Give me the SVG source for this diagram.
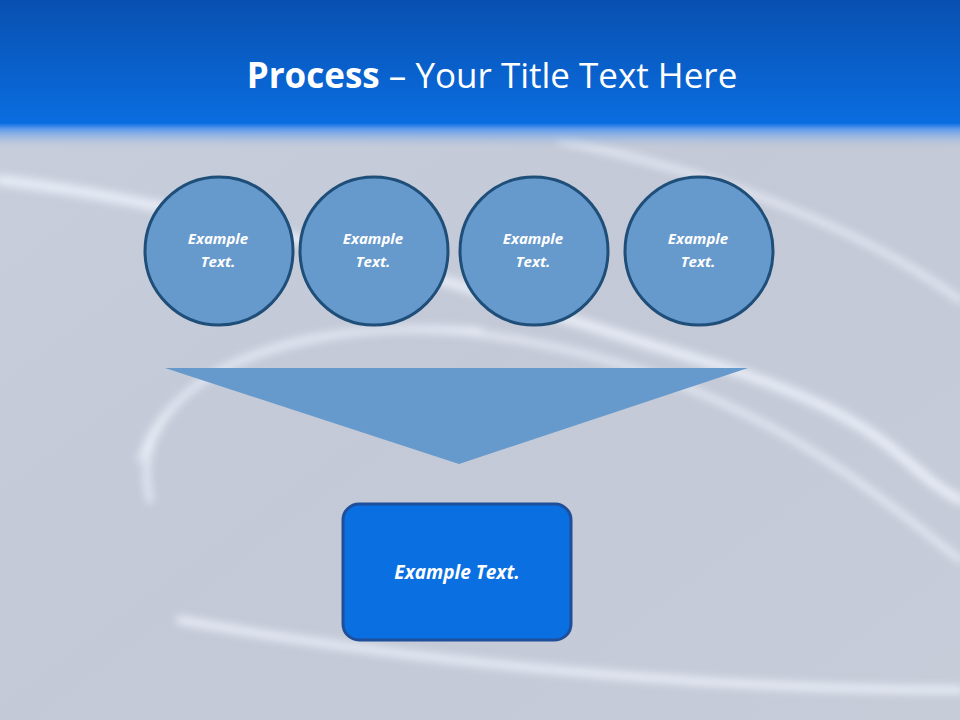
<svg xmlns="http://www.w3.org/2000/svg" width="960" height="720" viewBox="0 0 960 720">
<defs>
<linearGradient id="hdr" x1="0" y1="0" x2="0" y2="1">
<stop offset="0" stop-color="#0850b0"/><stop offset="0.82" stop-color="#0a6de0"/><stop offset="0.86" stop-color="#5f9bec"/><stop offset="1" stop-color="#c4cbd8" stop-opacity="0"/>
</linearGradient>
<linearGradient id="bg" x1="0" y1="0" x2="1" y2="1">
<stop offset="0" stop-color="#c8cfdc"/><stop offset="0.5" stop-color="#c3c9d6"/><stop offset="1" stop-color="#c6ccd8"/>
</linearGradient>
<filter id="blur"><feGaussianBlur stdDeviation="4"/></filter>
<style>
.c{fill:#6699cc;stroke:#1f4e79;stroke-width:3}
.t{font-family:"Open Sans","Liberation Sans",sans-serif;font-weight:bold;font-style:italic;fill:#fff;text-anchor:middle}
.s{fill:none;stroke:#f2f6ff;stroke-linecap:round}
</style>
</defs>
<rect width="960" height="720" fill="url(#bg)"/>
<g opacity="0.8" filter="url(#blur)">
<path class="s" stroke-width="10" d="M0,180 C250,210 500,300 700,360 S900,470 960,500"/>
<path class="s" stroke-width="6" d="M150,500 C120,380 300,300 520,340 S860,480 960,560"/>
<path class="s" stroke-width="8" d="M180,620 C400,660 700,690 960,690"/>
<path class="s" stroke-width="5" d="M140,460 C170,360 320,320 480,330"/>
<path class="s" stroke-width="6" d="M560,140 C700,170 850,220 960,300"/>
</g>
<rect width="960" height="150" fill="url(#hdr)"/>
<text x="492" y="88" font-family="'Open Sans','Liberation Sans',sans-serif" font-size="35" fill="#fff" text-anchor="middle"><tspan font-weight="bold">Process</tspan> – Your Title Text Here</text>
<g id="n1"><circle class="c" cx="219" cy="251" r="74"/><text class="t" font-size="15" x="218" y="244">Example</text><text class="t" font-size="15" x="218" y="267">Text.</text></g>
<g id="n2"><circle class="c" cx="374" cy="251" r="74"/><text class="t" font-size="15" x="373" y="244">Example</text><text class="t" font-size="15" x="373" y="267">Text.</text></g>
<g id="n3"><circle class="c" cx="534" cy="251" r="74"/><text class="t" font-size="15" x="533" y="244">Example</text><text class="t" font-size="15" x="533" y="267">Text.</text></g>
<g id="n4"><circle class="c" cx="699" cy="251" r="74"/><text class="t" font-size="15" x="698" y="244">Example</text><text class="t" font-size="15" x="698" y="267">Text.</text></g>
<g id="connectors"><polygon points="165,368 748,368 459,464" fill="#6699cc"/></g>
<g id="n5"><rect x="343" y="504" width="228" height="136" rx="16" fill="#0a6fe0" stroke="#1f4e9a" stroke-width="3"/><text class="t" font-size="19" x="457" y="579">Example Text.</text></g>
</svg>
